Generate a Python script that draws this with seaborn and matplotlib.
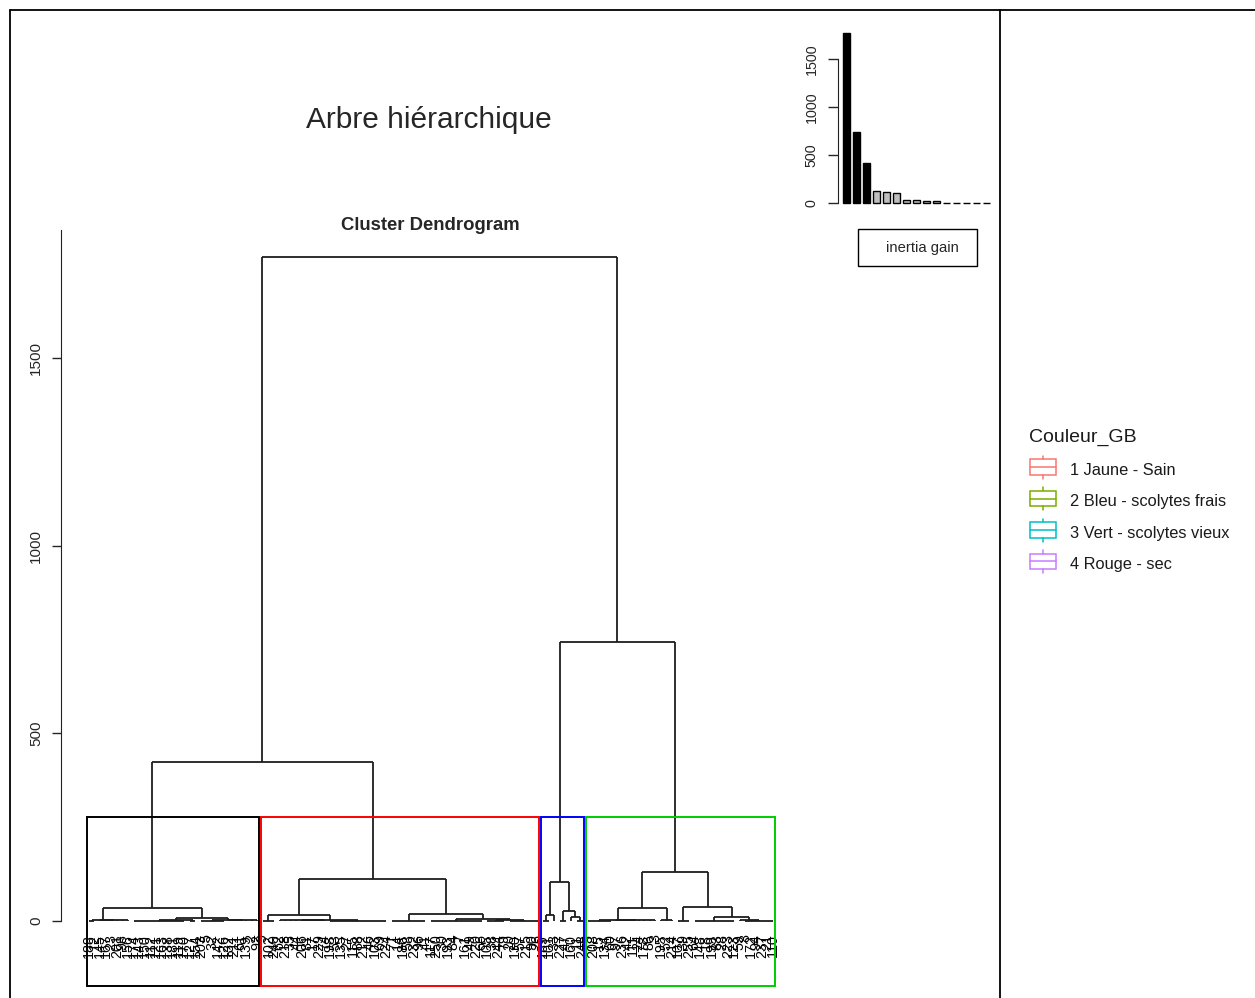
import numpy as np
import pandas as pd
import seaborn as sns
import matplotlib.pyplot as plt
from matplotlib.collections import LineCollection
from matplotlib.patches import Rectangle
from matplotlib import transforms

# leaf labels (tree ids) of each cluster, in dendrogram order
cluster1_ids = [188, 12, 145, 167, 23, 201, 98, 156, 174, 143, 150, 112, 121, 163, 138, 181,
                119, 170, 127, 154, 203, 5, 32, 142, 126, 132, 211, 61, 139, 2, 92]
cluster2_ids = [9, 102, 240, 62, 218, 35, 44, 206, 81, 17, 229, 74, 198, 53, 135, 27, 115,
                88, 212, 46, 103, 69, 224, 71, 14, 186, 58, 232, 96, 41, 117, 250, 30, 193,
                84, 7, 161, 49, 220, 66, 105, 38, 244, 79, 20, 130, 57, 215, 90, 26]
cluster3_ids = [189, 101, 33, 227, 47, 160, 11, 248]
cluster4_ids = [75, 208, 15, 134, 60, 97, 236, 42, 111, 24, 178, 86, 3, 195, 52, 214, 107,
                39, 255, 64, 148, 18, 199, 83, 28, 223, 123, 59, 8, 172, 94, 237, 21, 110]

# dendrogram structure: (height, left, right) for a merge,
# [number of leaves, height] for a tight group of leaves at the bottom
cluster1_tree = (35, (3, [2, 1], [6, 2]), (7, (3, [10, 1], [2, 1]), (4, [5, 1], [6, 1.5])))
cluster2_tree = (112, (16, [3, 1], (3, [9, 2], [11, 1])),
                 (19, [7, 1], (5, [10, 1], (2, [4, 1], [6, 1]))))
cluster3_tree = (104, (16, [2, 1], [1, 0]), (27, [2, 1], (11, [1, 0], [2, 0.5])))
cluster4_tree = (131, (34, (4, [5, 1], [8, 2]), [3, 2]),
                 (38, [3, 1], (10, [8, 1], (2, [1, 0], [6, 1]))))
left_height = 424
right_height = 744
root_height = 1771

inertia_gain = [1771, 744, 424, 131, 118, 107, 38, 36, 22, 21, 8, 8, 7, 7, 6]

legend_levels = ["1 Jaune - Sain", "2 Bleu - scolytes frais",
                 "3 Vert - scolytes vieux", "4 Rouge - sec"]
legend_colors = ["#F8766D", "#7CAE00", "#00BFC4", "#C77CFF"]
box_colors = ["black", "#FF0000", "#0000FF", "#00CD00"]

sns.set_style("white")
plt.rcParams["font.family"] = ["Liberation Sans", "DejaVu Sans"]

W, H = 1255, 998
fig = plt.figure(figsize=(W / 100, H / 100), dpi=100)


def px_axes(x0, y0, x1, y1):
    return [x0 / W, 1 - y1 / H, (x1 - x0) / W, (y1 - y0) / H]


# page overlay in pixel coordinates (table borders, titles, legend)
page = fig.add_axes([0, 0, 1, 1])
page.set_xlim(0, W)
page.set_ylim(H, 0)
page.axis("off")
for xs, ys in [([10, 10], [10, H]), ([10, W], [10, 10]), ([1000, 1000], [10, H])]:
    page.plot(xs, ys, color="black", lw=1.3)

page.text(429, 128, "Arbre hiérarchique", ha="center", va="baseline", fontsize=21.5)
page.text(430, 230, "Cluster Dendrogram", ha="center", va="baseline",
          fontsize=13.3, fontweight="bold")

# ---- dendrogram ----
ax = fig.add_axes(px_axes(61.5, 230, 800.6, 986))
segments = []
counter = [1]


def layout(node):
    if isinstance(node, list):
        k, h = node
        xs = list(range(counter[0], counter[0] + k))
        counter[0] += k
        if k == 1:
            return xs[0], 0
        for x in xs:
            segments.append([(x, 0), (x, h)])
        segments.append([(xs[0], h), (xs[-1], h)])
        return (xs[0] + xs[-1]) / 2, h
    h, left, right = node
    xl, hl = layout(left)
    xr, hr = layout(right)
    segments.extend([[(xl, hl), (xl, h)], [(xr, hr), (xr, h)], [(xl, h), (xr, h)]])
    return (xl + xr) / 2, h


clusters = [cluster1_tree, cluster2_tree, cluster3_tree, cluster4_tree]
full_tree = (root_height, (left_height, cluster1_tree, cluster2_tree),
             (right_height, cluster3_tree, cluster4_tree))
layout(full_tree)
ax.add_collection(LineCollection(segments, colors="#1e1e1e", linewidths=1.3))

all_ids = cluster1_ids + cluster2_ids + cluster3_ids + cluster4_ids
n = len(all_ids)
pad = 0.04 * (n - 1)
ax.set_xlim(1 - pad, n + pad)
ax.set_ylim(-0.04 * root_height - 102.4, root_height * 1.04)

lab_tr = transforms.offset_copy(ax.transData, fig=fig, y=-9.5, units="points")
for i, lab in enumerate(all_ids):
    ax.text(i + 1, 0, str(lab), rotation=90, ha="center", va="top",
            fontsize=10.3, color="black", transform=lab_tr)

# cluster rectangles
sizes = [len(cluster1_ids), len(cluster2_ids), len(cluster3_ids), len(cluster4_ids)]
heights_sorted = sorted([root_height, right_height, left_height] +
                        [c[0] for c in clusters], reverse=True)
k = len(sizes)
rect_top = (heights_sorted[k - 2] + heights_sorted[k - 1]) / 2
m = np.concatenate([[0], np.cumsum(sizes)])
ybot = ax.get_ylim()[0]
for j in range(k):
    ax.add_patch(Rectangle((m[j] + 0.66, ybot), m[j + 1] + 0.33 - (m[j] + 0.66),
                           rect_top - ybot, fill=False, ec=box_colors[j], lw=1.4,
                           clip_on=False, zorder=3))

ax.set_xticks([])
ax.set_yticks([0, 500, 1000, 1500])
ax.tick_params(axis="y", length=6.8, width=1, pad=6.5, labelsize=11,
               labelrotation=90, left=True)
for t in ax.get_yticklabels():
    t.set_va("center")
for s in ["top", "right", "bottom"]:
    ax.spines[s].set_visible(False)
ax.spines["left"].set_bounds(0, root_height * 1.04)
ax.spines["left"].set_color("#222222")
ax.set_facecolor("none")

# ---- inertia gain inset ----
axi = fig.add_axes(px_axes(838.3, 26.5, 998.3, 210.1))
gain_df = pd.DataFrame({"step": [str(i + 1) for i in range(len(inertia_gain))],
                        "gain": inertia_gain})
bar_colors = ["black"] * (k - 1) + ["#BEBEBE"] * (len(inertia_gain) - k + 1)
sns.barplot(data=gain_df, x="step", y="gain", hue="step", palette=bar_colors,
            legend=False, width=0.73, edgecolor="black", linewidth=1.0, ax=axi)
axi.set_xlim(-0.8, 15.2)
axi.set_ylim(-0.04 * inertia_gain[0], inertia_gain[0] * 1.04)
axi.set_xlabel("")
axi.set_ylabel("")
axi.set_xticks([])
axi.set_yticks([0, 500, 1000, 1500])
axi.tick_params(axis="y", length=7, width=1, pad=7, labelsize=10.3,
                labelrotation=90, left=True)
for t in axi.get_yticklabels():
    t.set_va("center")
for s in ["top", "right", "bottom"]:
    axi.spines[s].set_visible(False)
axi.spines["left"].set_bounds(0, 1500)
axi.spines["left"].set_color("#222222")
axi.set_facecolor("none")

page.add_patch(Rectangle((857.7, 229), 119, 37, fill=False, ec="black", lw=1.0))
page.text(886, 248, "inertia gain", ha="left", va="center", fontsize=10.6)

# ---- Couleur_GB legend ----
page.text(1029, 441.5, "Couleur_GB", ha="left", va="baseline", fontsize=14, color="#1a1a1a")
for j, (lab, col) in enumerate(zip(legend_levels, legend_colors)):
    base = 475 + 31.4 * j
    cy = base - 7.8
    page.add_patch(Rectangle((1029.5, cy - 7.8), 26.5, 15.6, fill=False, ec=col, lw=1.1))
    page.plot([1029.5, 1056], [cy, cy], color=col, lw=1.1)
    page.plot([1042.7, 1042.7], [cy - 11.5, cy - 7.8], color=col, lw=1.1)
    page.plot([1042.7, 1042.7], [cy + 7.8, cy + 11.5], color=col, lw=1.1)
    page.text(1070, base, lab, ha="left", va="baseline", fontsize=11.8, color="#1a1a1a")

fig.savefig("out.png", dpi=100)
